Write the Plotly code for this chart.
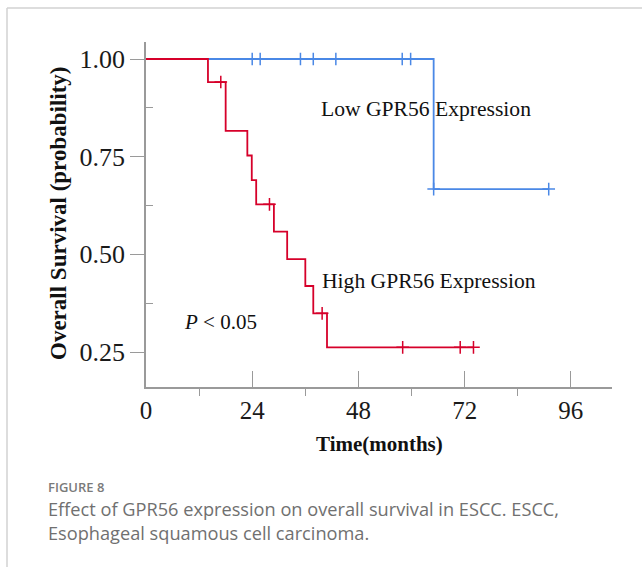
import plotly.graph_objects as go

# ---- data ----
low_time = [0, 65.0, 91.0]
low_surv = [1.0, 0.667, 0.667]
low_cens_time = [24.0, 25.8, 34.9, 37.8, 42.9, 57.9, 59.8, 65.0, 91.0]
low_cens_surv = [1.0, 1.0, 1.0, 1.0, 1.0, 1.0, 1.0, 0.667, 0.667]

high_time = [0, 14.0, 18.0, 22.9, 23.9, 24.9, 28.9, 31.9, 36.0, 37.8, 40.9, 74.0]
high_surv = [1.0, 0.941, 0.816, 0.753, 0.690, 0.628, 0.558, 0.488, 0.419, 0.349, 0.262, 0.262]
high_cens_time = [16.9, 27.9, 39.8, 58.0, 71.0, 74.0]
high_cens_surv = [0.941, 0.628, 0.349, 0.262, 0.262, 0.262]

x_ticks = [0, 24, 48, 72, 96]
x_minor = [12, 36, 60, 84]
y_ticks = [0.25, 0.50, 0.75, 1.00]
y_ticktext = ["0.25", "0.50", "0.75", "1.00"]
y_minor = [0.375, 0.625, 0.875]

BLUE = "#4a88e6"
RED = "#d6002a"
AXIS = "#9a9a9a"
SERIF = "Liberation Serif"

W, H = 642, 567
L, R, T, B = 146, 30, 42, 180
PW, PH = W - L - R, H - T - B


def px(x):
    return (x - L) / PW


def py(y):
    return (H - B - y) / PH


fig = go.Figure()
fig.add_trace(go.Scatter(x=low_time, y=low_surv, mode="lines", line=dict(shape="hv", color=BLUE, width=1.8), hoverinfo="skip"))
fig.add_trace(go.Scatter(x=low_cens_time, y=low_cens_surv, mode="markers",
                         marker=dict(symbol="cross-thin", size=9, line=dict(color=BLUE, width=1.5)), hoverinfo="skip"))
fig.add_trace(go.Scatter(x=high_time, y=high_surv, mode="lines", line=dict(shape="hv", color=RED, width=1.8), hoverinfo="skip"))
fig.add_trace(go.Scatter(x=high_cens_time, y=high_cens_surv, mode="markers",
                         marker=dict(symbol="cross-thin", size=9, line=dict(color=RED, width=1.5)), hoverinfo="skip"))

fig.update_layout(
    width=W, height=H,
    margin=dict(l=L, r=R, t=T, b=B),
    paper_bgcolor="white", plot_bgcolor="white",
    showlegend=False,
    xaxis=dict(range=[0, 105.3], tickmode="array", tickvals=x_ticks, ticks="inside", ticklen=16,
               tickcolor=AXIS, tickwidth=1.3, showline=True, linecolor=AXIS, linewidth=1.5,
               showgrid=False, zeroline=False,
               tickfont=dict(family=SERIF, size=25, color="#1a1a1a"),
               minor=dict(tickmode="array", tickvals=x_minor, ticks="outside", ticklen=7,
                          tickcolor=AXIS, tickwidth=1.3, showgrid=False)),
    yaxis=dict(range=[0.1605, 1.0435], tickmode="array", tickvals=y_ticks, ticktext=y_ticktext,
               ticks="outside", ticklen=14, tickcolor=AXIS, tickwidth=1.3,
               showline=True, linecolor=AXIS, linewidth=1.5, showgrid=False, zeroline=False,
               tickfont=dict(family=SERIF, size=26, color="#1a1a1a"),
               minor=dict(tickmode="array", tickvals=y_minor, ticks="inside", ticklen=7,
                          tickcolor=AXIS, tickwidth=1.3, showgrid=False)),
)

ann = [
    dict(x=39.2, y=0.872, xref="x", yref="y", text="Low GPR56 Expression", showarrow=False,
         xanchor="left", yanchor="middle", font=dict(family=SERIF, size=21.6, color="#111")),
    dict(x=39.4, y=0.432, xref="x", yref="y", text="High GPR56 Expression", showarrow=False,
         xanchor="left", yanchor="middle", font=dict(family=SERIF, size=21.6, color="#111")),
    dict(x=8.2, y=0.327, xref="x", yref="y", text="<i>P</i> &lt; 0.05", showarrow=False,
         xanchor="left", yanchor="middle", font=dict(family=SERIF, size=21, color="#111")),
    dict(x=px(58), y=py(214), xref="paper", yref="paper", text="<b>Overall Survival (probability)</b>",
         textangle=-90, showarrow=False, xanchor="center", yanchor="middle",
         font=dict(family=SERIF, size=23, color="#111")),
    dict(x=px(379), y=py(444), xref="paper", yref="paper", text="<b>Time(months)</b>",
         showarrow=False, xanchor="center", yanchor="middle",
         font=dict(family=SERIF, size=21, color="#111")),
    dict(x=px(46), y=py(487), xref="paper", yref="paper", text="FIGURE 8",
         showarrow=False, xanchor="left", yanchor="middle",
         font=dict(family="Open Sans", size=13, color="#7a7a7a", weight=600)),
    dict(x=px(46), y=py(509), xref="paper", yref="paper",
         text="Effect of GPR56 expression on overall survival in ESCC. ESCC,",
         showarrow=False, xanchor="left", yanchor="middle",
         font=dict(family="Open Sans", size=18.2, color="#707070")),
    dict(x=px(46), y=py(533), xref="paper", yref="paper",
         text="Esophageal squamous cell carcinoma.",
         showarrow=False, xanchor="left", yanchor="middle",
         font=dict(family="Open Sans", size=18.2, color="#707070")),
]
fig.update_layout(annotations=ann)

fig.update_layout(shapes=[
    dict(type="line", xref="paper", yref="paper", x0=px(7), x1=px(642), y0=py(8), y1=py(8),
         line=dict(color="#d2d2d2", width=1.5)),
    dict(type="line", xref="paper", yref="paper", x0=px(7), x1=px(7), y0=py(8), y1=py(567),
         line=dict(color="#d2d2d2", width=1.5)),
])

fig.write_html("out.html")
